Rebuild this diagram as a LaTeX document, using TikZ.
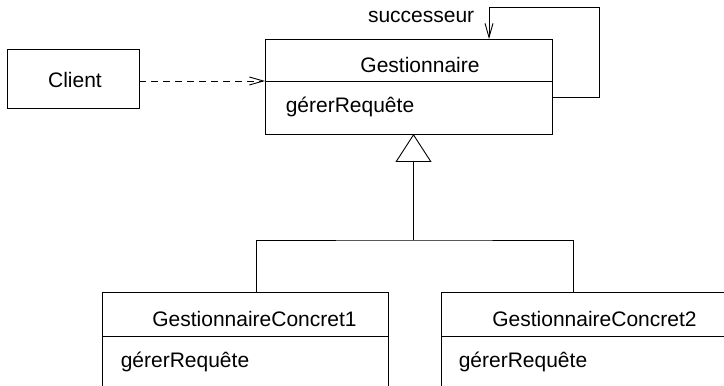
\documentclass[tikz,border=0pt]{standalone}
\usepackage{fontspec}
\setmainfont{Liberation Sans}
\usetikzlibrary{arrows.meta}

\begin{document}
\begin{tikzpicture}[x=1pt,y=1pt,line width=0.9pt,
    every node/.style={font=\fontsize{21}{25}\selectfont},
    box/.style={draw,rectangle,inner sep=0pt,outer sep=0pt,anchor=north west},
    dep/.style={dash pattern=on 7pt off 5pt,-{Straight Barb[length=14pt,width=8pt]}},
    assoc/.style={-{Straight Barb[length=14pt,width=8pt]}},
    inherit/.style={-{Triangle[open,length=28pt,width=36pt]}}]

    \clip (0,0) rectangle (724,386);

    % client
    \node[box,minimum width=132pt,minimum height=59pt] (client) at (7,337) {};
    \node[anchor=base] (clientname) at (75,298) {Client};

    % gestionnaire
    \node[box,minimum width=287pt,minimum height=42pt] (gest) at (265,347) {};
    \node[box,minimum width=287pt,minimum height=53pt] (gestm) at (gest.south west) {};
    \node[anchor=base] (gestname) at (420,313) {Gestionnaire};
    \node[anchor=base west] (gestop) at (282,273) {gérerRequête};

    % concrete handlers
    \node[box,minimum width=286pt,minimum height=44pt] (conc1) at (102,94) {};
    \node[box,minimum width=286pt,minimum height=60pt] (conc1m) at (conc1.south west) {};
    \node[anchor=base] (conc1name) at (254.5,59) {GestionnaireConcret1};
    \node[anchor=base west] (conc1op) at (117,18) {gérerRequête};

    \node[box,minimum width=286pt,minimum height=44pt] (conc2) at (441,94) {};
    \node[box,minimum width=286pt,minimum height=60pt] (conc2m) at (conc2.south west) {};
    \node[anchor=base] (conc2name) at (594.5,59) {GestionnaireConcret2};
    \node[anchor=base west] (conc2op) at (455,18) {gérerRequête};

    % links
    \draw[dep] (client.east |- gestm.north west) -- (gestm.north west);

    \coordinate (loop) at (599,379);
    \draw[assoc] ([yshift=-16pt]gestm.north east) -| (loop) -| ([xshift=80.5pt]gest.north);
    \node[anchor=base east] (succ) at (478,363) {successeur};

    \coordinate (bus) at (413.5,146);
    \draw[inherit] (bus) -- ([xshift=5pt]gestm.south);
    \draw ([xshift=11pt]conc1.north) |- (bus) -| ([xshift=-11pt]conc2.north);

  \end{tikzpicture}
\end{document}
